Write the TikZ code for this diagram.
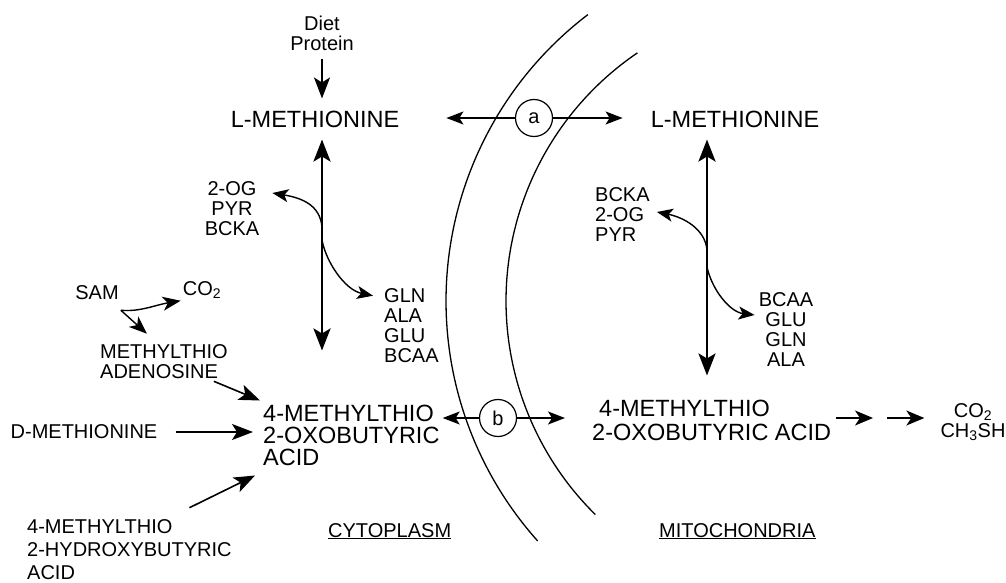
\documentclass[tikz,border=0pt]{standalone}
\usepackage{fontspec}
\setmainfont{Liberation Sans}
\usepackage{tikz}
\usetikzlibrary{arrows.meta}
\newcommand{\bigf}{\fontsize{23.5}{22}\selectfont}
\newcommand{\smlf}{\fontsize{20}{20}\selectfont}

\begin{document}
\begin{tikzpicture}[x=1pt, y=-1pt,
  lbl/.style={font=\smlf, inner sep=2pt},
  biglbl/.style={font=\bigf, inner sep=2pt},
  tag/.style={draw, circle, line width=1.2pt, minimum size=37pt, inner sep=0pt, font=\smlf},
  flow/.style={line width=1.6pt, -{Stealth[length=21pt, width=16pt, inset=5pt]}},
  link/.style={line width=1.4pt, -{Stealth[length=17pt, width=13pt, inset=4pt]}},
  side/.style={line width=1.4pt, -{Stealth[length=16pt, width=13pt, inset=4pt]}},
  dflow/.style={line width=2.8pt, {Stealth[length=22pt, width=17pt, inset=5pt]}-{Stealth[length=22pt, width=17pt, inset=5pt]}},
  membrane/.style={line width=1.3pt}]
\useasboundingbox (0,0) rectangle (1006,583);

% membranes
\draw[membrane] (806,301) ++(127.3:360pt) arc[start angle=127.3, end angle=221.8, radius=360pt];
\draw[membrane] (806,301) ++(124.2:300pt) arc[start angle=124.2, end angle=225.4, radius=300pt];

% cytoplasm
\node[lbl, align=center] (diet) at (322,33) {Diet\\Protein};
\node[biglbl] (lmetc) at (315,119) {L-METHIONINE};
\node[lbl, align=center] (ogc) at (232,209) {2-OG\\PYR\\BCKA};
\node[lbl, align=left, anchor=west] (glnc) at (382,326) {GLN\\ALA\\GLU\\BCAA};
\node[lbl] (sam) at (97,293) {SAM};
\node[lbl] (co2a) at (202,290) {CO\textsubscript{2}};
\node[lbl, align=left, anchor=west] (mta) at (98,362) {METHYLTHIO\\ADENOSINE};
\node[lbl] (dmet) at (84,432) {D-METHIONINE};
\node[lbl, align=left, anchor=west] (hyd) at (25,550) {4-METHYLTHIO\\[3pt]2-HYDROXYBUTYRIC\\[3pt]ACID};
\node[biglbl, align=left, anchor=west] (acidc) at (261,435) {4-METHYLTHIO\\2-OXOBUTYRIC\\ACID};
\node[lbl, anchor=base west] (cyto) at (326,537) {\underline{CYTOPLASM}};

% carriers
\node[tag] (circa) at (534,118) {a};
\node[tag] (circb) at (498,418) {b};

% mitochondria
\node[biglbl] (lmetm) at (735,119) {L-METHIONINE};
\node[lbl, align=left, anchor=west] (bckm) at (593,215) {BCKA\\2-OG\\PYR};
\node[lbl, align=center] (bcaam) at (786,330) {BCAA\\GLU\\GLN\\ALA};
\node[biglbl, align=left, anchor=west] (acidm) at (590,420) {\hspace{7pt}4-METHYLTHIO\\[2pt]2-OXOBUTYRIC ACID};
\node[lbl, align=center] (prod) at (973,422) {CO\textsubscript{2}\\CH\textsubscript{3}SH};
\node[lbl, anchor=base west] (mito) at (657,537) {\underline{MITOCHONDRIA}};

\coordinate (jl1) at (322,227);
\coordinate (jl2) at (322,240);
\coordinate (jr1) at (707,250);
\coordinate (jr2) at (707,267);
\coordinate (mid) at (880,418);

\draw[flow, shorten <=6pt, shorten >=10pt] (diet.south) -- (diet |- lmetc.north);
\draw[dflow, shorten <=10pt, shorten >=52pt] (lmetc.south -| diet) -- (acidc.north -| diet);
\draw[side] (jl1) .. controls (320,205) and (302,198) .. ([shift={(11,-16)}]ogc.east);
\draw[side] (jl2) .. controls (326,262) and (345,290) .. ([shift={(-9,9)}]glnc.north west);

\draw[dflow, shorten <=10pt, shorten >=22pt] (lmetm.south -| jr1) -- (acidm.north -| jr1);
\draw[side] (jr1) .. controls (705,228) and (682,217) .. ([shift={(5,-3)}]bckm.east);
\draw[side] (jr2) .. controls (712,290) and (730,312) .. ([shift={(-2,-15)}]bcaam.west);

\draw[link, shorten >=45pt] (circa) -- (circa -| lmetc.east);
\draw[link, shorten >=26pt] (circa) -- (circa -| lmetm.west);
\draw[link, shorten >=1pt] (circb) -- (circb -| acidc.east);
\draw[link, shorten >=25pt] (circb) -- (circb -| acidm.west);

\draw[side, -{Stealth[length=18pt, width=14pt, inset=5pt]}] ([shift={(0,8)}]sam.south east) .. controls (140,312) and (155,305) .. (co2a.south west);
\draw[side, -{Stealth[length=18pt, width=14pt, inset=5pt]}] ([shift={(0,8)}]sam.south east) -- ([shift={(-17,-9)}]mta.north);
\draw[flow] ([xshift=-16pt]mta.south east) -- ([shift={(-1,-2)}]acidc.north west);
\draw[flow, shorten <=16pt, shorten >=8pt] (dmet) -- (dmet -| acidc.west);
\draw[flow] ([shift={(60,-10)}]hyd.north) -- ([shift={(-6,8)}]acidc.south west);

\draw[flow, -{Stealth[length=18pt, width=15pt, inset=5pt]}, shorten <=3pt, shorten >=7pt] (acidm.east |- mid) -- (mid);
\draw[flow, -{Stealth[length=18pt, width=15pt, inset=5pt]}, shorten <=7pt, shorten >=14pt] (mid) -- (prod.west |- mid);
\end{tikzpicture}
\end{document}
